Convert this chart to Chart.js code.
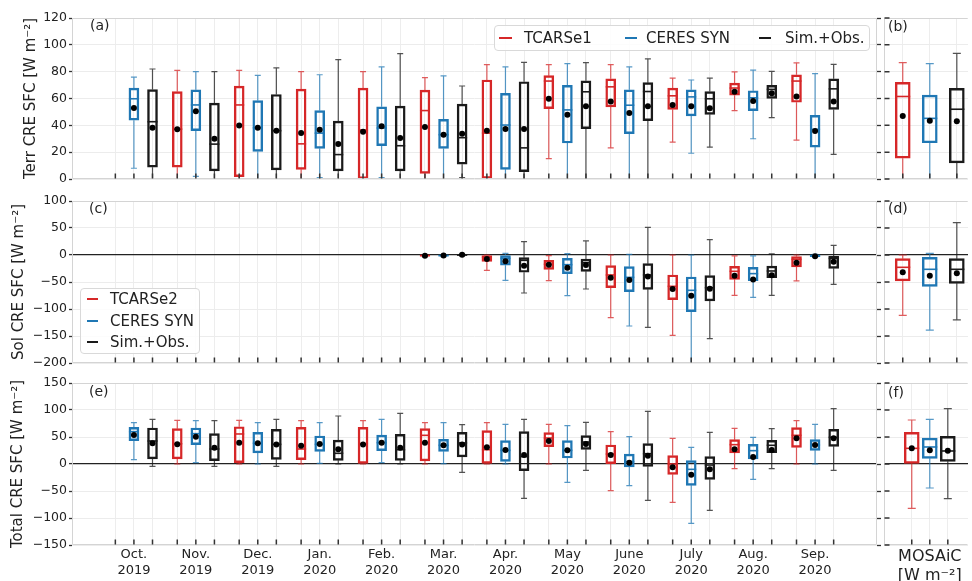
<!DOCTYPE html>
<html>
<head>
<meta charset="utf-8">
<script src="https://cdn.jsdelivr.net/npm/chart.js@4.4.1/dist/chart.umd.min.js"></script>
<style>
body { margin: 0; background: #fff; font-family: 'DejaVu Sans', sans-serif; color: #222; }
#wrap { position: relative; width: 972px; height: 581px; overflow: hidden; }
canvas { position: absolute; }
.plab { position: absolute; font-size: 14px; line-height: 16px; }
.legend { position: absolute; box-sizing: border-box; border: 1px solid #d9d9d9; border-radius: 4px; background: rgba(255,255,255,0.85); font-size: 15px; }
.legend span { position: absolute; white-space: nowrap; }
.legend i { position: absolute; height: 2px; }
</style>
</head>
<body>
<div id="wrap">
  <canvas id="cA"></canvas><canvas id="cB"></canvas>
  <canvas id="cC"></canvas><canvas id="cD"></canvas>
  <canvas id="cE"></canvas><canvas id="cF"></canvas>

  <div class="plab" style="left:90px;top:17px">(a)</div>
  <div class="plab" style="left:888px;top:18px">(b)</div>
  <div class="plab" style="left:89px;top:200px">(c)</div>
  <div class="plab" style="left:888px;top:200px">(d)</div>
  <div class="plab" style="left:89px;top:383px">(e)</div>
  <div class="plab" style="left:888px;top:384px">(f)</div>

  <div class="legend" style="left:494px;top:25px;width:376px;height:26px">
    <i style="left:4px;top:11px;width:13px;background:#d62728"></i><span style="left:29px;top:0;line-height:24px">TCARSe1</span>
    <i style="left:130px;top:11px;width:12px;background:#1f77b4"></i><span style="left:151px;top:0;line-height:24px">CERES SYN</span>
    <i style="left:264px;top:11px;width:12px;background:#1a1a1a"></i><span style="left:290px;top:0;line-height:24px">Sim.+Obs.</span>
  </div>
  <div class="legend" style="left:80px;top:288px;width:120px;height:66px">
    <i style="left:6px;top:9px;width:11px;background:#d62728"></i><span style="left:29px;top:0;line-height:20px">TCARSe2</span>
    <i style="left:6px;top:30.5px;width:11px;background:#1f77b4"></i><span style="left:29px;top:21.5px;line-height:20px">CERES SYN</span>
    <i style="left:6px;top:51.5px;width:11px;background:#1a1a1a"></i><span style="left:29px;top:42.5px;line-height:20px">Sim.+Obs.</span>
  </div>
</div>

<script>
// months (Oct 2019 - Sep 2020)
const monthNames = ['Oct.', 'Nov.', 'Dec.', 'Jan.', 'Feb.', 'Mar.', 'Apr.', 'May', 'June', 'July', 'Aug.', 'Sep.'];
const monthYears = ['2019', '2019', '2019', '2020', '2020', '2020', '2020', '2020', '2020', '2020', '2020', '2020'];

// each row: [whisker low, Q1, median, Q3, whisker high, mean]   (null = no data)
const terrTcars = [null, [0, 8.8, 37.2, 65.2, 81, 37], [0, 1.8, 55.2, 69.3, 81, 39.8], [0, 7.2, 26.2, 67, 80, 34.2],
  [0, 0.3, 36.5, 67.8, 80, 35.2], [0, 4.2, 51, 66.3, 75.5, 38.7], [0, 0, 34.2, 73.8, 85.2, 36],
  [15.2, 52.5, 73, 77, 85.2, 59.8], [23.2, 53.8, 68.7, 74.7, 85.2, 57.8], [27.5, 51.8, 62, 67.8, 75.2, 55.2],
  [51, 62.5, 67.8, 71.5, 79.8, 65], [29, 57.2, 73, 77.7, 86.5, 61.5]];
const terrCeres = [[8, 43.8, 59.8, 67.7, 76, 53], [2, 36, 55.2, 66.5, 80, 50.5], [0, 20.5, 38.2, 58.5, 77.2, 38.2],
  [1, 22.8, 34.2, 51, 77.7, 36.8], [1, 24.8, 38, 53.8, 83.5, 39.3], [0, 22.8, 33, 44.5, 76.8, 33],
  [0, 7.2, 40.2, 63.8, 83.5, 37.2], [0, 26.8, 51.5, 69.8, 86, 47.8], [0, 33.8, 55, 66.5, 83.5, 49.2],
  [19.2, 47, 61.2, 66.5, 73.8, 54.2], [30, 51, 60.5, 65.8, 81.2, 58.2], [0, 23.8, 37, 47.5, 78.5, 35.8]];
const terrSim = [[0, 8.8, 42.7, 66.7, 82, 38.2], [0, 6, 26, 56.5, 80, 30], [0, 6.8, 36, 63, 82.8, 36],
  [0, 6, 18.2, 43.2, 89, 26], [0, 6, 24.8, 54.3, 93.5, 30.5], [1, 11, 30.8, 55.8, 69.3, 33.8],
  [0, 5.5, 23.2, 72.5, 87, 37.2], [0, 37.5, 65, 73.2, 86.7, 54.2], [0, 43.5, 65.2, 71.8, 89.5, 54.2],
  [23.8, 48.2, 59.8, 65.2, 75.2, 52.8], [45.8, 60, 66.8, 69.8, 80.2, 64], [18.3, 51.8, 67.2, 74.7, 85.5, 57.8]];
const terrMosaic = [[0, 15.5, 61.5, 72, 86.7, 47], [0, 27, 45.2, 62.5, 86, 43.5], [0, 12, 52, 67.5, 93.7, 43]];

const solTcars = [null, null, null, null, null, [-3, -2, -1, 0, 0, -1.5], [-28.4, -11.7, -4.3, 0, 0, -7.4],
  [-47.5, -26.5, -17.3, -9.9, -1, -17.9], [-116, -60.5, -37, -19.8, 0, -42], [-148.7, -82.7, -58, -37, 0, -63],
  [-74.7, -45, -30.2, -21, -1.5, -38.3], [-48, -22.2, -8, -3, 0, -14.2]];
const solCeres = [null, null, null, null, null, [-3, -2, -1, 0, 0.5, -1], [-47, -19, -6.2, 0, 3, -11.7],
  [-75.3, -34.5, -17.9, -6.2, 2.5, -23.5], [-131.5, -67.9, -41.4, -21.6, 1, -46.3], [-200, -105, -65.4, -40.7, 0, -75.3],
  [-78.4, -47.5, -34.5, -22.8, -1.5, -45.6], [-4, -3, -1.5, 0.5, 1, -2.5]];
const solSim = [null, null, null, null, null, [-1.5, -1, 0, 1, 1.5, 0.5], [-70.4, -32, -9.9, -4.9, 24.7, -19.8],
  [-63, -30.2, -14.2, -7.4, 26, -18.5], [-134, -63.6, -37, -16, 51.2, -40], [-155, -85, -60.5, -38.3, 28.4, -62.3],
  [-74.7, -42, -29.6, -20.4, 1.9, -37.6], [-54.3, -24.7, -6.2, -2.5, 17.9, -12.3]];
const solMosaic = [[-111.7, -48, -22.8, -6.8, 0, -32], [-139, -58, -26.5, -4.3, 3, -38.3], [-120, -52.5, -26.5, -6.8, 59.9, -34]];

const totTcars = [null, [0, 9.3, 37.6, 65.4, 80.9, 36.4], [0, 2.5, 55.6, 69, 80.9, 39.5], [0, 8, 27.8, 68, 80.2, 33.9],
  [0, 0, 37.6, 68, 80.2, 36], [0, 5.6, 53.1, 65.4, 76.5, 39.5], [0, 0, 26.5, 61.7, 76.5, 30.9],
  [0, 32.1, 48.1, 58, 73.5, 42.6], [-49.4, 0.6, 18.5, 35.2, 59.9, 16.7], [-71, -19.1, 0, 15.4, 47.5, -6.2],
  [-8.6, 20.4, 35.8, 45, 66, 27.2], [0, 30.9, 53.1, 67.3, 80.2, 47.5]];
const totCeres = [[8, 43.2, 59.9, 68, 76.5, 53.7], [2.5, 35.8, 56.2, 66.7, 80.2, 50.6], [0, 20.4, 38.3, 58.6, 76.5, 38.3],
  [1, 23.5, 36.4, 51.9, 76.5, 37], [2.5, 24.7, 39.5, 53.7, 82.7, 39.5], [0.6, 23.5, 34.6, 45.7, 76.5, 34.6],
  [0, 4.9, 25.3, 43.2, 73.5, 25.9], [-34, 11.1, 25.3, 43.2, 71, 25.3], [-40.1, -5.6, 4.3, 18.5, 50.6, 2.5],
  [-109.9, -39.5, -9.9, 6.2, 30.9, -19.8], [-28.4, 9.3, 24.7, 36.4, 49.4, 13], [0, 25.3, 35.2, 45, 73.5, 35.2]];
const totSim = [[-4.3, 9.3, 42.6, 66.7, 82.7, 38.3], [-4.3, 6.2, 27.8, 56.2, 80.2, 30.2], [-4.3, 8.7, 36.4, 64.2, 82.7, 36],
  [0, 6.8, 19.8, 44.4, 88.9, 27.2], [0, 6.8, 26.5, 54.9, 93.8, 30.2], [-15.4, 13, 39, 58.6, 72.8, 36],
  [-63.6, -12.3, 13.6, 59.9, 82.7, 16.7], [-11.7, 27.2, 40.7, 52.5, 77.1, 37], [-67.3, -4.3, 19.1, 37.6, 97.5, 15.4],
  [-85.8, -28.4, -1.9, 13.6, 58.6, -9.9], [-8.6, 21, 34.6, 43.8, 65.4, 25.9], [-11.7, 32.7, 49.4, 64.2, 102.5, 47.5]];
const totMosaic = [[-82, 1.2, 29, 58.6, 81.5, 29], [-44.4, 10.5, 31.5, 48.1, 82.7, 25.3], [-64.2, 4.9, 24.1, 51.2, 102.5, 24.7]];

// y axis ranges: [min, max, step]
const terrRange = [0, 120, 20];
const solRange = [-200, 100, 50];
const totRange = [-150, 150, 50];

const colors = ['#d62728', '#1f77b4', '#1a1a1a'];
const monthOffsets = [-0.3, 0, 0.3];

Chart.defaults.font.family = "'DejaVu Sans', sans-serif";
Chart.defaults.color = '#222';

// whiskers, caps and median lines, drawn through the scales
const whiskerPlugin = {
  id: 'whiskers',
  beforeDatasetsDraw(chart) {
    const ctx = chart.ctx, xs = chart.scales.x, ys = chart.scales.y, a = chart.chartArea;
    ctx.save();
    ctx.beginPath();
    ctx.rect(a.left, a.top, a.right - a.left, a.bottom - a.top);
    ctx.clip();
    chart.data.datasets.forEach(ds => {
      if (ds.type !== 'bar') return;
      ds.data.forEach(d => {
        const s = d.s;
        const px = xs.getPixelForValue(d.x);
        const cap = ds.capW / 2, half = ds.barThickness / 2;
        const lo = ys.getPixelForValue(s[0]), q1 = ys.getPixelForValue(s[1]);
        const q3 = ys.getPixelForValue(s[3]), hi = ys.getPixelForValue(s[4]);
        ctx.strokeStyle = ds.borderColor;
        ctx.globalAlpha = 0.75;
        ctx.lineWidth = 1.2;
        ctx.beginPath();
        ctx.moveTo(px, q1); ctx.lineTo(px, lo);
        ctx.moveTo(px, q3); ctx.lineTo(px, hi);
        ctx.moveTo(px - cap, lo); ctx.lineTo(px + cap, lo);
        ctx.moveTo(px - cap, hi); ctx.lineTo(px + cap, hi);
        ctx.stroke();
        ctx.globalAlpha = 1;
        ctx.lineWidth = 1.6;
        const md = ys.getPixelForValue(s[2]);
        ctx.beginPath();
        ctx.moveTo(px - half, md); ctx.lineTo(px + half, md);
        ctx.stroke();
      });
    });
    ctx.restore();
  }
};

// spines and inward tick marks
const framePlugin = {
  id: 'frame',
  afterDraw(chart, args, opts) {
    const ctx = chart.ctx, a = chart.chartArea;
    ctx.save();
    ctx.strokeStyle = '#d4d4d4';
    ctx.lineWidth = 1;
    const l = Math.round(a.left) + 0.5, r = Math.round(a.right) - 0.5;
    const t = Math.round(a.top) + 0.5, b = Math.round(a.bottom) - 0.5;
    ctx.beginPath();
    ctx.moveTo(r, t); ctx.lineTo(l, t); ctx.lineTo(l, b); ctx.lineTo(r, b);
    if (opts.right) { ctx.moveTo(r, t); ctx.lineTo(r, b); }
    ctx.stroke();
    ctx.strokeStyle = '#333';
    ctx.lineWidth = 1.5;
    ctx.beginPath();
    chart.scales.x.ticks.forEach(tk => {
      const px = chart.scales.x.getPixelForValue(tk.value);
      ctx.moveTo(px, b); ctx.lineTo(px, b - 5);
    });
    if (opts.innerY) {
      chart.scales.y.ticks.forEach(tk => {
        const py = chart.scales.y.getPixelForValue(tk.value);
        ctx.moveTo(l, py); ctx.lineTo(l + 5, py);
      });
    }
    ctx.stroke();
    ctx.restore();
  }
};

function boxSets(seriesRows, xOf, boxW, capW) {
  const sets = [];
  seriesRows.forEach((rows, k) => {
    const pts = [];
    rows.forEach((r, i) => {
      if (r) pts.push({ x: xOf(i, k), y: [r[1], r[3]], s: r });
    });
    sets.push({
      type: 'bar', data: pts, borderColor: colors[k], backgroundColor: 'rgba(255,255,255,0)',
      borderWidth: 1.8, borderSkipped: false, barThickness: boxW, capW: capW, grouped: false, order: 2
    });
    sets.push({
      type: 'scatter', data: pts.map(p => ({ x: p.x, y: p.s[5] })),
      pointRadius: 3, pointBackgroundColor: '#000', pointBorderWidth: 0, order: 0
    });
  });
  return sets;
}

function gridColor(zero) {
  return c => (zero && c.tick && c.tick.value === 0) ? '#222' : '#ececec';
}

function makeChart(id, box, datasets, cfg) {
  const cv = document.getElementById(id);
  cv.width = box.w; cv.height = box.h;
  cv.style.left = box.x + 'px'; cv.style.top = box.y + 'px';
  const [ymin, ymax, ystep] = cfg.range;
  const scales = {
    x: {
      type: 'linear', min: cfg.xMin, max: cfg.xMax, offset: false,
      afterBuildTicks: s => { s.ticks = cfg.xTicks.map(v => ({ value: v })); },
      afterFit: s => { s.height = box.xh; },
      grid: { color: '#ededed', offset: false, drawTicks: false },
      border: { display: false },
      ticks: {
        display: !!cfg.xLabel, autoSkip: false, maxRotation: 0, minRotation: 0, padding: 2,
        color: '#222', font: { size: cfg.xFont || 13 }, callback: cfg.xLabel || (() => '')
      }
    },
    y: {
      type: 'linear', position: 'left', min: ymin, max: ymax,
      afterFit: s => { s.width = box.yw; },
      grid: { color: gridColor(cfg.zero), lineWidth: c => (cfg.zero && c.tick && c.tick.value === 0) ? 1.2 : 1,
              drawTicks: !cfg.innerY, tickLength: 3, tickColor: '#333', tickWidth: 1.3 },
      border: { display: false },
      ticks: { display: !cfg.innerY, stepSize: ystep, padding: 2, color: '#222', font: { size: 12.5 },
               callback: v => String(v).replace('-', '\u2212') },
      title: { display: !!cfg.title, text: cfg.title, color: '#222', font: { size: 15 },
               padding: { top: cfg.titlePad || 0, bottom: 0 } }
    }
  };
  if (!cfg.innerY) {
    scales.y2 = {
      type: 'linear', position: 'right', min: ymin, max: ymax,
      afterFit: s => { s.width = 7; },
      grid: { drawOnChartArea: false, drawTicks: true, tickLength: 4, tickColor: '#333', tickWidth: 1.3 },
      border: { display: false },
      ticks: { display: false, stepSize: ystep }
    };
  }
  return new Chart(cv, {
    type: 'bar',
    data: { datasets: datasets },
    options: {
      responsive: false, animation: false, devicePixelRatio: 1,
      layout: { padding: { top: box.pt, left: 0, right: 0, bottom: 0 } },
      plugins: { legend: { display: false }, tooltip: { enabled: false }, frame: { right: !cfg.innerY, innerY: cfg.innerY } },
      scales: scales
    },
    plugins: [whiskerPlugin, framePlugin]
  });
}

const monthTicks = [];
monthNames.forEach((m, i) => monthOffsets.forEach(o => monthTicks.push(i + o)));
const monthX = (i, k) => i + monthOffsets[k];
const monthLabel = v => {
  const i = Math.round(v);
  return Math.abs(v - i) < 1e-6 && monthNames[i] ? [monthNames[i], monthYears[i]] : '';
};

const mosaicWide = [-0.3, 0, 0.3];
const mosaicNarrow = [-0.2, 0, 0.2];
const one = r => [r];

// left column: chart area x 72..877
const L = { x: 0, w: 884, yw: 72 };
const R = { x: 880, w: 92, yw: 4 };
const rowA = { y: 0, h: 189, pt: 18, xh: 10 };
const rowC = { y: 191, h: 182, pt: 10, xh: 10 };
const rowE = { y: 373, h: 208, pt: 10, xh: 36 };

const monthCfg = { xMin: -1, xMax: 12, xTicks: monthTicks };
const rightMin = -0.508, rightMax = 0.424;

makeChart('cA', Object.assign({}, L, rowA), boxSets([terrTcars, terrCeres, terrSim], monthX, 10, 6),
  Object.assign({ range: terrRange, title: 'Terr CRE SFC [W m\u207B\u00B2]', titlePad: 22 }, monthCfg));
makeChart('cC', Object.assign({}, L, rowC), boxSets([solTcars, solCeres, solSim], monthX, 10, 6),
  Object.assign({ range: solRange, zero: true, title: 'Sol CRE SFC [W m\u207B\u00B2]', titlePad: 10 }, monthCfg));
makeChart('cE', Object.assign({}, L, rowE), boxSets([totTcars, totCeres, totSim], monthX, 10, 6),
  Object.assign({ range: totRange, zero: true, title: 'Total CRE SFC [W m\u207B\u00B2]', titlePad: 9, xLabel: monthLabel }, monthCfg));

makeChart('cB', Object.assign({}, R, rowA), boxSets(terrMosaic.map(one), (i, k) => mosaicWide[k], 15, 8),
  { range: terrRange, innerY: true, xMin: rightMin, xMax: rightMax, xTicks: mosaicWide });
makeChart('cD', Object.assign({}, R, rowC), boxSets(solMosaic.map(one), (i, k) => mosaicWide[k], 15, 8),
  { range: solRange, innerY: true, zero: true, xMin: rightMin, xMax: rightMax, xTicks: mosaicWide });
makeChart('cF', Object.assign({}, R, rowE), boxSets(totMosaic.map(one), (i, k) => mosaicNarrow[k], 15, 8),
  { range: totRange, innerY: true, zero: true, xMin: rightMin, xMax: rightMax, xTicks: mosaicNarrow,
    xFont: 16, xLabel: v => Math.abs(v) < 1e-6 ? ['MOSAiC', '[W m\u207B\u00B2]'] : '' });
</script>
</body>
</html>
